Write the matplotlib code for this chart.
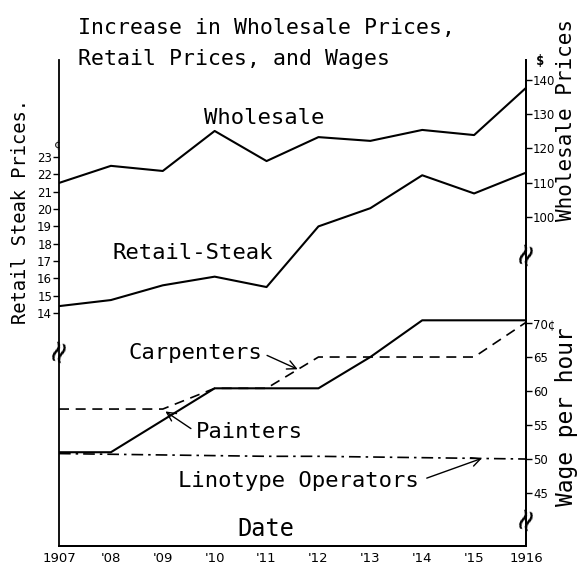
import matplotlib.pyplot as plt

# values
years = [1907, 1908, 1909, 1910, 1911, 1912, 1913, 1914, 1915, 1916]
year_labels = ["1907", "'08", "'09", "'10", "'11", "'12", "'13", "'14", "'15", "1916"]

wholesale = [109.9, 114.9, 113.4, 125.1, 116.3, 123.3, 122.2, 125.4, 123.9, 137.7]
retail_steak = [14.4, 14.75, 15.6, 16.1, 15.5, 19.0, 20.05, 21.95, 20.9, 22.1]
painters = [51.0, 51.0, 55.7, 60.4, 60.4, 60.4, 65.0, 70.4, 70.4, 70.4]
carpenters = [57.35, 57.35, 57.35, 60.4, 60.4, 65.0, 65.0, 65.0, 65.0, 70.1]
linotype = [50.8, 50.7, 50.6, 50.5, 50.4, 50.4, 50.3, 50.2, 50.1, 50.0]

steak_ticks = [14, 15, 16, 17, 18, 19, 20, 21, 22, 23]
wholesale_ticks = [100, 110, 120, 130, 140]
wage_ticks = [45, 50, 55, 60, 65, 70]

# lettering on the original is wide, so a mono face fits the widths best
plt.rcParams['font.family'] = ['DejaVu Sans Mono', 'DejaVu Sans']
W, H = 578, 564
TICK_FONT = ['DejaVu Sans']


def px(x, y):
    # pixel position (from top-left) -> figure fraction
    return x / W, 1 - y / H


fig = plt.figure(figsize=(W / 100, H / 100), dpi=100)
ax = fig.add_axes([59 / W, 1 - 546 / H, 467 / W, 486 / H])
ax_whole = ax.twinx()
ax_wage = ax.twinx()

lw = 1.5
ax.plot(years, retail_steak, color='black', lw=lw)
ax_whole.plot(years, wholesale, color='black', lw=lw)
ax_wage.plot(years, painters, color='black', lw=lw)
ax_wage.plot(years, carpenters, color='black', lw=1.2, dashes=(6, 4))
ax_wage.plot(years, linotype, color='black', lw=1.2, dashes=(7, 3, 1.5, 3))

ax.set_xlim(1907, 1916)
ax.set_ylim(0.56, 28.6)
ax_whole.set_ylim(3.74, 145.85)
ax_wage.set_ylim(37.21, 108.68)

ax.set_xticks(years)
ax.set_xticklabels(year_labels, fontsize=9.5, family=TICK_FONT)
ax.tick_params(axis='x', length=0, pad=4)
ax.set_yticks(steak_ticks)
ax.set_yticklabels([str(v) for v in steak_ticks], fontsize=8.5, family=TICK_FONT)
ax.tick_params(axis='y', direction='out', length=4, width=1, pad=1)

ax_whole.set_yticks(wholesale_ticks)
ax_whole.set_yticklabels([str(v) for v in wholesale_ticks], fontsize=8.5,
                         family=TICK_FONT)
ax_wage.set_yticks(wage_ticks)
ax_wage.set_yticklabels([str(v) for v in wage_ticks[:-1]] + ["70\u00a2"],
                        fontsize=8.5, family=TICK_FONT)
for a in (ax_whole, ax_wage):
    a.tick_params(axis='y', direction='out', length=4, width=1, pad=1)

for a in (ax, ax_whole, ax_wage):
    a.spines['top'].set_visible(False)
    for s in ('left', 'right', 'bottom'):
        a.spines[s].set_linewidth(1.3)
ax_wage.spines['left'].set_visible(False)
ax_whole.spines['left'].set_visible(False)

# axis break marks
for bx, by in [(59, 350), (526, 253), (526, 518)]:
    fig.text(*px(bx, by), "\u2248", fontsize=22, rotation=70,
             ha='center', va='center', family=['DejaVu Sans'])

# unit signs
fig.text(*px(57, 145), "\u00a2", fontsize=8, ha='center', va='center')
fig.text(*px(540, 61), "$", fontsize=10, ha='center', va='center', weight='bold')

# titles and labels
fig.text(*px(78, 28), "Increase in Wholesale Prices,", fontsize=15.5,
         ha='left', va='center')
fig.text(*px(78, 59), "Retail Prices, and Wages", fontsize=15.5,
         ha='left', va='center')
fig.text(*px(21, 212), "Retail Steak Prices.", fontsize=13.5, rotation=90,
         ha='center', va='center')
fig.text(*px(566, 120), "Wholesale Prices", fontsize=15, rotation=90,
         ha='center', va='center')
fig.text(*px(567, 417), "Wage per hour", fontsize=16.5, rotation=90,
         ha='center', va='center')

fig.text(*px(204, 118), "Wholesale", fontsize=16, ha='left', va='center')
fig.text(*px(112, 253), "Retail-Steak", fontsize=16, ha='left', va='center')
fig.text(*px(266, 529), "Date", fontsize=17, ha='center', va='center')

# series labels with pointers
ax_wage.annotate("Carpenters", xy=(1911.6, 63.2), xycoords='data',
                 xytext=px(128, 353), textcoords='figure fraction',
                 fontsize=16, ha='left', va='center',
                 arrowprops=dict(arrowstyle='->', color='black', lw=1,
                                 shrinkA=2, shrinkB=0, relpos=(1, 0.5)))
ax_wage.annotate("Painters", xy=(1909.05, 57.0), xycoords='data',
                 xytext=px(196, 432), textcoords='figure fraction',
                 fontsize=16, ha='left', va='center',
                 arrowprops=dict(arrowstyle='->', color='black', lw=1,
                                 shrinkA=2, shrinkB=0, relpos=(0, 0.5)))
ax_wage.annotate("Linotype Operators", xy=(1915.15, 50.1), xycoords='data',
                 xytext=px(178, 481), textcoords='figure fraction',
                 fontsize=16, ha='left', va='center',
                 arrowprops=dict(arrowstyle='->', color='black', lw=1,
                                 shrinkA=4, shrinkB=0, relpos=(1, 0.5)))

fig.savefig("out.png", dpi=100)
